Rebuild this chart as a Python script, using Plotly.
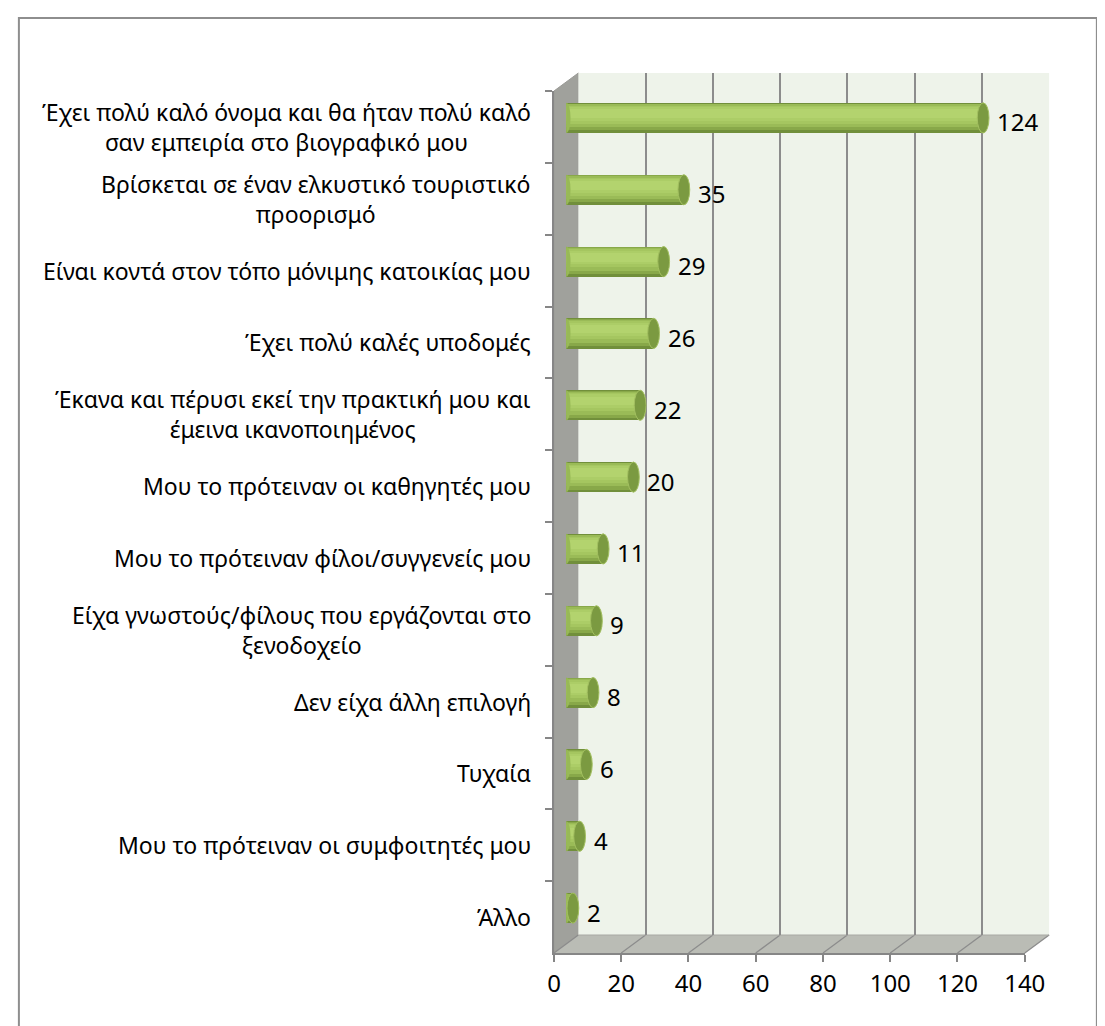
import plotly.graph_objects as go

categories = [
    "Έχει πολύ καλό όνομα και θα ήταν πολύ καλό<br>σαν εμπειρία στο βιογραφικό μου",
    "Βρίσκεται σε έναν ελκυστικό τουριστικό<br>προορισμό",
    "Είναι κοντά στον τόπο μόνιμης κατοικίας μου",
    "Έχει πολύ καλές υποδομές",
    "Έκανα και πέρυσι εκεί την πρακτική μου και<br>έμεινα ικανοποιημένος",
    "Μου το πρότειναν οι καθηγητές μου",
    "Μου το πρότειναν φίλοι/συγγενείς μου",
    "Είχα γνωστούς/φίλους που εργάζονται στο<br>ξενοδοχείο",
    "Δεν είχα άλλη επιλογή",
    "Τυχαία",
    "Μου το πρότειναν οι συμφοιτητές μου",
    "Άλλο",
]
values = [124, 35, 29, 26, 22, 20, 11, 9, 8, 6, 4, 2]
x_ticks = [0, 20, 40, 60, 80, 100, 120, 140]

W, H = 1105, 1026
FONT = "Noto Sans"
FS = 23
FS_NUM = 24

def fx(p):
    return p / W

def fy(p):
    return 1 - p / H

# plane geometry (pixels)
back = dict(x0=578, x1=1061, y0=65, y1=927)
mid = dict(x0=565.5, x1=1048.5, y0=74, y1=936)
front = dict(x0=553, x1=1036, y0=83, y1=945)

n = len(categories)
yr = [n - 0.5, -0.5]
xr = [0, 140]

fig = go.Figure()

# invisible trace so the back-wall subplot is drawn
fig.add_trace(go.Scatter(
    x=values, y=categories, xaxis="x", yaxis="y", mode="markers",
    marker=dict(opacity=0, size=1), hoverinfo="skip", showlegend=False,
))

bar_layers = [
    (-0.21, 0.21, "#718F3B"),
    (-0.20, 0.175, "#88A849"),
    (-0.19, 0.13, "#9ABB57"),
    (-0.17, 0.08, "#A5C660"),
    (-0.15, 0.04, "#ACCD67"),
    (-0.12, 0.0, "#B3D36E"),
]
for lo, hi, col in bar_layers:
    fig.add_trace(go.Bar(
        x=values, y=categories, orientation="h",
        xaxis="x2", yaxis="y2",
        width=[hi - lo] * n, offset=[lo] * n,
        marker=dict(color=col, line=dict(width=0)),
        hoverinfo="skip", showlegend=False,
    ))

shapes = []
grey_line = "#8C8C8C"
# side wall
shapes.append(dict(
    type="path", xref="paper", yref="paper", layer="below",
    path=f"M {fx(front['x0'])},{fy(front['y0'])} L {fx(back['x0'])},{fy(back['y0'])} "
         f"L {fx(back['x0'])},{fy(back['y1'])} L {fx(front['x0'])},{fy(front['y1'])} Z",
    fillcolor="#A0A19C", line=dict(color="#9A9A96", width=1),
))
# floor
shapes.append(dict(
    type="path", xref="paper", yref="paper", layer="below",
    path=f"M {fx(front['x0'])},{fy(front['y1'])} L {fx(front['x1'])},{fy(front['y1'])} "
         f"L {fx(back['x1'])},{fy(back['y1'])} L {fx(back['x0'])},{fy(back['y1'])} Z",
    fillcolor="#BABCB5", line=dict(width=0),
))
# back wall
shapes.append(dict(
    type="rect", xref="paper", yref="paper", layer="below",
    x0=fx(back['x0']), x1=fx(back['x1']), y0=fy(back['y1']), y1=fy(back['y0']),
    fillcolor="#EEF3EA", line=dict(width=0),
))
# floor diagonals
for t in x_ticks:
    xf = front['x0'] + (front['x1'] - front['x0']) * t / 140
    xb = back['x0'] + (back['x1'] - back['x0']) * t / 140
    shapes.append(dict(
        type="line", xref="paper", yref="paper", layer="below",
        x0=fx(xf), y0=fy(front['y1']), x1=fx(xb), y1=fy(back['y1']),
        line=dict(color=grey_line, width=1.3),
    ))
# back wall floor edge
shapes.append(dict(
    type="line", xref="paper", yref="paper", layer="below",
    x0=fx(back['x0']), y0=fy(back['y1']), x1=fx(back['x1']), y1=fy(back['y1']),
    line=dict(color="#A8A8A4", width=1),
))
# cylinder caps
for i, v in enumerate(values):
    shapes.append(dict(
        type="circle", xref="x2", yref="y2", layer="above",
        x0=-1.3, x1=1.3, y0=i - 0.21, y1=i + 0.21,
        fillcolor="#98B956", line=dict(width=0),
    ))
    shapes.append(dict(
        type="circle", xref="x2", yref="y2", layer="above",
        x0=v - 1.75, x1=v + 1.75, y0=i - 0.21, y1=i + 0.21,
        fillcolor="#7B9A41", line=dict(color="#A3C061", width=1),
    ))
# outer frame
shapes.append(dict(
    type="rect", xref="paper", yref="paper", layer="above",
    x0=fx(4), y0=fy(10), x1=fx(1110), y1=fy(1030),
    fillcolor="rgba(0,0,0,0)", line=dict(color="#8E8E8E", width=2),
))

annotations = []
for i, (c, v) in enumerate(zip(categories, values)):
    annotations.append(dict(
        xref="paper", yref="y3", x=fx(531), y=c, xanchor="right", yanchor="middle",
        text=c, showarrow=False, align="center",
        font=dict(family=FONT, size=FS, color="#000000"),
    ))
    annotations.append(dict(
        xref="x2", yref="y2", x=v, y=c, xanchor="left", yanchor="middle",
        xshift=12, yshift=-4,
        text=str(v), showarrow=False,
        font=dict(family=FONT, size=FS_NUM, color="#000000"),
    ))

fig.update_layout(
    width=W, height=H,
    margin=dict(l=0, r=0, t=0, b=0),
    paper_bgcolor="white", plot_bgcolor="rgba(0,0,0,0)",
    barmode="overlay", bargap=0,
    showlegend=False,
    shapes=shapes, annotations=annotations,
    font=dict(family=FONT, size=FS, color="#000000"),
    # back wall (gridlines)
    xaxis=dict(domain=[fx(back['x0']), fx(back['x1'])], range=xr, anchor="y",
               tickvals=x_ticks, showgrid=True, gridcolor=grey_line, gridwidth=1.5,
               showticklabels=False, ticks="", showline=False, zeroline=False),
    yaxis=dict(domain=[fy(back['y1']), fy(back['y0'])], anchor="x",
               type="category", categoryorder="array", categoryarray=categories,
               range=yr, showgrid=False, showticklabels=False, showline=False,
               zeroline=False, ticks=""),
    # bars (mid depth)
    xaxis2=dict(domain=[fx(mid['x0']), fx(mid['x1'])], range=xr, anchor="y2",
                visible=False),
    yaxis2=dict(domain=[fy(mid['y1']), fy(mid['y0'])], anchor="x2",
                type="category", categoryorder="array", categoryarray=categories,
                range=yr, visible=False),
    # front axes
    xaxis3=dict(domain=[fx(front['x0']), fx(front['x1'])], range=xr, anchor="y3",
                tickvals=x_ticks, ticktext=[str(t) for t in x_ticks],
                showgrid=False, zeroline=False, showline=True, linecolor="#868686",
                linewidth=1.5, ticks="outside", ticklen=7, tickcolor="#868686",
                tickwidth=1.5, ticklabelstandoff=1,
                tickfont=dict(family=FONT, size=FS_NUM, color="#000000")),
    yaxis3=dict(domain=[fy(front['y1']), fy(front['y0'])], anchor="x3",
                type="category", categoryorder="array", categoryarray=categories,
                range=yr, showgrid=False, zeroline=False, showline=True,
                linecolor="#868686", linewidth=1.5, ticks="outside", ticklen=7,
                tickcolor="#868686", tickwidth=1.5, tickson="boundaries",
                showticklabels=False),
)

fig.write_html("out.html")
